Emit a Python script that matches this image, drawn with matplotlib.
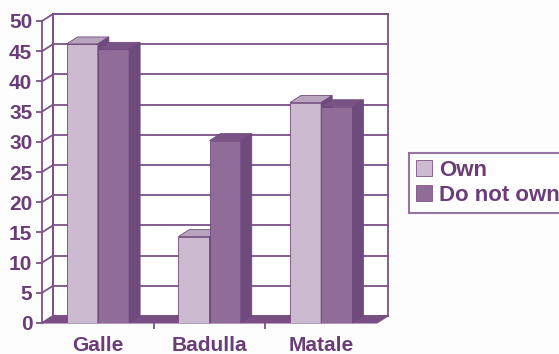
import matplotlib
matplotlib.use('Agg')
import matplotlib.pyplot as plt
from matplotlib.patches import Polygon, Patch

# data
regions = ['Galle', 'Badulla', 'Matale']
own = [46.2, 14.3, 36.5]
not_own = [45.3, 30.2, 35.8]
series_names = ['Own', 'Do not own']
yticks = list(range(0, 51, 5))

# colours
purple = '#6b3d78'
grid_col = '#7d5289'
light_front, light_top = '#cbbad0', '#b9a4bf'
dark_front, dark_top, dark_side = '#8f6d98', '#7a5386', '#6f4a7c'
floor_col = '#7a4f86'

plt.rcParams['font.family'] = ['Liberation Sans', 'DejaVu Sans']
plt.rcParams['font.weight'] = 'bold'

W, H = 559, 354
fig = plt.figure(figsize=(W / 100, H / 100), dpi=100)
fig.patch.set_facecolor('#fdfdfd')
ax = fig.add_axes([42 / W, 31 / H, 335 / W, 302 / H])
ax.set_xlim(0, 3)
ax.set_ylim(0, 50)
ax.set_facecolor('none')

# depth offset of the fake 3d box (px -> data units)
dx = 11 * 3 / 335
dy = 7 * 50 / 302

# back wall and grid
ax.add_patch(Polygon([(dx, dy), (3 + dx, dy), (3 + dx, 50 + dy), (dx, 50 + dy)],
                     closed=True, facecolor='white', edgecolor=grid_col, lw=1.3,
                     zorder=0, clip_on=False))
for v in yticks:
    ax.plot([dx, 3 + dx], [v + dy, v + dy], color=grid_col, lw=1.3, zorder=1, clip_on=False)
    ax.plot([0, dx], [v, v + dy], color=grid_col, lw=1.3, zorder=1, clip_on=False)
ax.plot([dx, dx], [dy, 50 + dy], color=grid_col, lw=1.3, zorder=1, clip_on=False)

# floor
ax.add_patch(Polygon([(0, 0), (3, 0), (3 + dx, dy), (dx, dy)], closed=True,
                     facecolor=floor_col, edgecolor=floor_col, lw=0.8, zorder=2, clip_on=False))


def draw_bar(x0, w, h, front, top, side, z):
    ax.bar(x0, h, width=w, align='edge', color=front, edgecolor=side, lw=0.6, zorder=z)
    ax.add_patch(Polygon([(x0, h), (x0 + w, h), (x0 + w + dx, h + dy), (x0 + dx, h + dy)],
                         closed=True, facecolor=top, edgecolor=side, lw=0.6, zorder=z,
                         clip_on=False))
    ax.add_patch(Polygon([(x0 + w, 0), (x0 + w + dx, dy), (x0 + w + dx, h + dy), (x0 + w, h)],
                         closed=True, facecolor=side, edgecolor=side, lw=0.6, zorder=z,
                         clip_on=False))


bw = 0.28
z = 3
for i in range(len(regions)):
    draw_bar(i + 0.5 - bw, bw, own[i], light_front, light_top, dark_side, z)
    draw_bar(i + 0.5, bw, not_own[i], dark_front, dark_top, dark_side, z + 1)
    z += 2

# axes, ticks, labels
for s in ['top', 'right', 'bottom']:
    ax.spines[s].set_visible(False)
ax.spines['left'].set_color(grid_col)
ax.spines['left'].set_linewidth(1.3)
ax.set_yticks(yticks)
ax.set_yticklabels([str(v) for v in yticks], fontsize=15, color=purple, fontweight='bold')
ax.tick_params(axis='y', length=4, width=1.3, color=grid_col, pad=3)
ax.set_xticks([0.5, 1.5, 2.5])
ax.set_xticklabels(regions, fontsize=15, color=purple, fontweight='bold')
ax.set_xticks([1, 2], minor=True)
ax.tick_params(axis='x', which='major', length=0, pad=9.5)
ax.tick_params(axis='x', which='minor', length=4, width=1.3, color=grid_col)

handles = [Patch(facecolor=light_front, edgecolor=grid_col, lw=0.6),
           Patch(facecolor=dark_front, edgecolor=grid_col, lw=0.6)]
leg = fig.legend(handles, series_names, loc='upper left',
                 bbox_to_anchor=(409 / W, 1 - 153 / H), borderaxespad=0,
                 fancybox=False, frameon=True, fontsize=16,
                 handlelength=0.75, handleheight=0.75, handletextpad=0.3,
                 labelspacing=0.2, borderpad=0.3)
leg.get_frame().set_edgecolor(grid_col)
leg.get_frame().set_linewidth(1.5)
for t in leg.get_texts():
    t.set_color(purple)
    t.set_fontweight('bold')

fig.savefig('out.png', dpi=100, facecolor=fig.get_facecolor())
